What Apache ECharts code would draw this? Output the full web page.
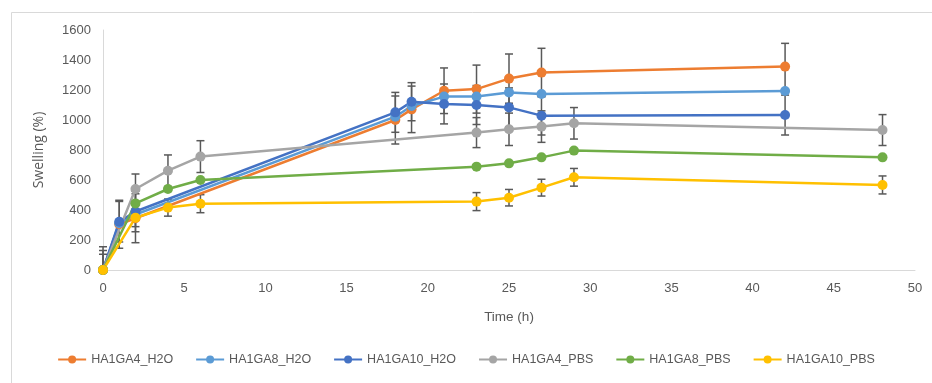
<!DOCTYPE html>
<html>
<head>
<meta charset="utf-8">
<script src="https://cdn.jsdelivr.net/npm/echarts@6/dist/echarts.min.js"></script>
<style>
html,body{margin:0;padding:0;background:#fff;}
#chart{width:932px;height:383px;}
</style>
</head>
<body>
<div id="chart"></div>
<script>
// Time points (h)
const tH2O = [0, 1, 2, 18, 19, 21, 23, 25, 27, 42];
const tPBS = [0, 2, 4, 6, 23, 25, 27, 29, 48];

// Swelling (%) values
const ha1ga4H2O  = [0, 305, 345, 1000, 1071, 1195, 1206, 1276, 1316, 1356];
const ha1ga8H2O  = [0, 312, 370, 1022, 1093, 1156, 1156, 1184, 1173, 1193];
const ha1ga10H2O = [0, 322, 390, 1051, 1122, 1107, 1100, 1084, 1029, 1033];
const ha1ga4PBS  = [0, 540, 662, 756, 916, 938, 956, 978, 933];
const ha1ga8PBS  = [0, 444, 540, 600, 689, 711, 751, 796, 751];
const ha1ga10PBS = [0, 349, 416, 442, 456, 482, 549, 618, 567];

// Error bar half-widths (0 = none)
const ha1ga4H2OErr  = [155, 160, 163, 160, 155, 152, 160, 164, 162, 155];
const ha1ga8H2OErr  = [130, 0, 0, 0, 0, 0, 0, 0, 0, 0];
const ha1ga10H2OErr = [105, 135, 135, 133, 127, 133, 130, 130, 129, 133];
const ha1ga4PBSErr  = [0, 100, 105, 106, 100, 108, 105, 105, 103];
const ha1ga8PBSErr  = [0, 0, 0, 0, 0, 0, 0, 0, 0];
const ha1ga10PBSErr = [0, 60, 57, 60, 60, 55, 56, 59, 60];

const names = ['HA1GA4_H2O', 'HA1GA8_H2O', 'HA1GA10_H2O', 'HA1GA4_PBS', 'HA1GA8_PBS', 'HA1GA10_PBS'];
const colors = ['#ED7D31', '#5B9BD5', '#4472C4', '#A5A5A5', '#70AD47', '#FFC000'];
const xsList = [tH2O, tH2O, tH2O, tPBS, tPBS, tPBS];
const ysList = [ha1ga4H2O, ha1ga8H2O, ha1ga10H2O, ha1ga4PBS, ha1ga8PBS, ha1ga10PBS];
const errList = [ha1ga4H2OErr, ha1ga8H2OErr, ha1ga10H2OErr, ha1ga4PBSErr, ha1ga8PBSErr, ha1ga10PBSErr];

const FONT = "'Liberation Sans', sans-serif";
const TXT = '#595959';

function errSeries(i) {
  const xs = xsList[i], ys = ysList[i], es = errList[i];
  const data = [];
  xs.forEach((x, k) => { if (es[k] > 0) data.push([x, ys[k], es[k]]); });
  return {
    type: 'custom',
    name: names[i] + '_err',
    data: data,
    z: 1,
    silent: true,
    encode: { x: 0, y: 1 },
    renderItem: function (params, api) {
      const x = api.value(0), y = api.value(1), e = api.value(2);
      const lo = Math.max(0, y - e), hi = y + e;
      const pHi = api.coord([x, hi]);
      const pLo = api.coord([x, lo]);
      const w = 4;
      const st = { stroke: '#595959', lineWidth: 1.5 };
      const children = [
        { type: 'line', shape: { x1: pHi[0], y1: pHi[1], x2: pLo[0], y2: pLo[1] }, style: st },
        { type: 'line', shape: { x1: pHi[0] - w, y1: pHi[1], x2: pHi[0] + w, y2: pHi[1] }, style: st }
      ];
      if (y - e >= 0) {
        children.push({ type: 'line', shape: { x1: pLo[0] - w, y1: pLo[1], x2: pLo[0] + w, y2: pLo[1] }, style: st });
      }
      return { type: 'group', children: children };
    }
  };
}

const series = [];
for (let i = 0; i < 6; i++) series.push(errSeries(i));
for (let i = 0; i < 6; i++) {
  series.push({
    type: 'line',
    name: names[i],
    data: xsList[i].map((x, k) => [x, ysList[i][k]]),
    symbol: 'circle',
    symbolSize: 10,
    z: 2,
    itemStyle: { color: colors[i] },
    lineStyle: { color: colors[i], width: 2.5 },
    emphasis: { disabled: true }
  });
}

const chart = echarts.init(document.getElementById('chart'), null, { renderer: 'canvas' });
chart.setOption({
  animation: false,
  backgroundColor: '#fff',
  color: colors,
  graphic: [{
    type: 'rect', left: 9, top: 10, z: -10,
    shape: { width: 940, height: 371 },
    style: { fill: 'none', stroke: '#D9D9D9', lineWidth: 1 }
  }],
  grid: { left: 103, right: 17, top: 30, bottom: 113, containLabel: false },
  legend: {
    data: names,
    bottom: 12,
    left: 'center',
    itemWidth: 28,
    itemHeight: 10,
    itemGap: 22,
    textStyle: { color: TXT, fontSize: 12.5, fontFamily: FONT }
  },
  xAxis: {
    type: 'value',
    min: 0, max: 50, interval: 5,
    name: 'Time (h)',
    nameLocation: 'middle',
    nameGap: 40,
    nameTextStyle: { color: TXT, fontSize: 13.5, fontFamily: FONT },
    axisLine: { show: true, lineStyle: { color: '#D9D9D9', width: 1 } },
    axisTick: { show: false },
    splitLine: { show: false },
    axisLabel: { color: TXT, fontSize: 13, fontFamily: FONT, margin: 12 }
  },
  yAxis: {
    type: 'value',
    min: 0, max: 1600, interval: 200,
    name: 'Swelling (%)',
    nameLocation: 'middle',
    nameGap: 57,
    nameTextStyle: { color: TXT, fontSize: 14, fontFamily: "'Open Sans', 'Liberation Sans', sans-serif" },
    axisLine: { show: true, lineStyle: { color: '#D9D9D9', width: 1 } },
    axisTick: { show: false },
    splitLine: { show: false },
    axisLabel: { color: TXT, fontSize: 13, fontFamily: FONT, margin: 12, formatter: function (v) { return String(v); } }
  },
  series: series
});
</script>
</body>
</html>
